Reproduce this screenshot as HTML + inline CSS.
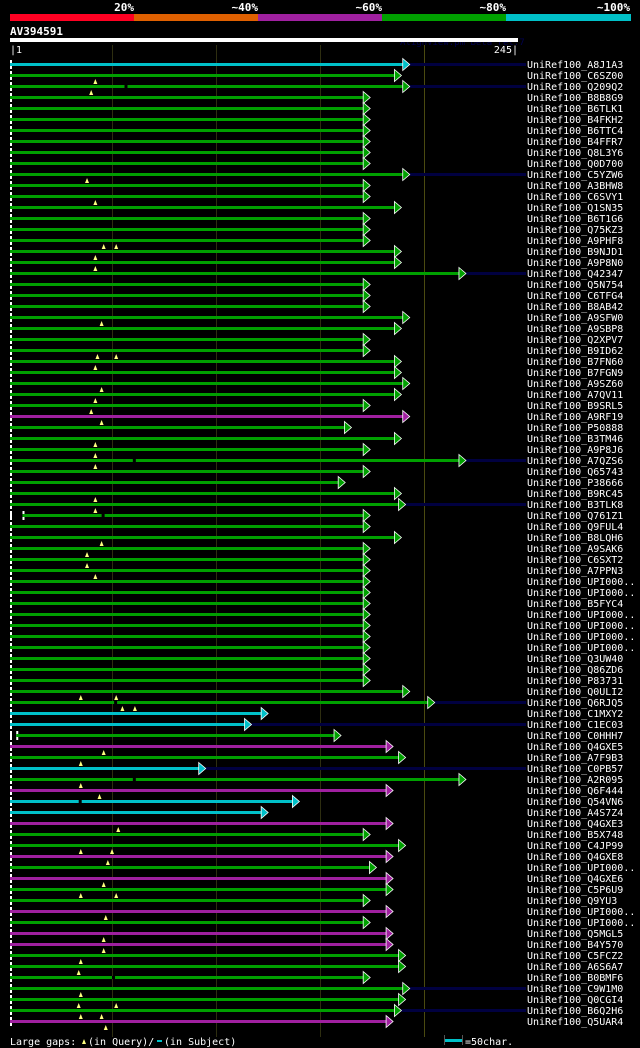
<!DOCTYPE html>
<html><head><meta charset="utf-8">
<style>
html,body{margin:0;padding:0;background:#000;}
body{width:640px;height:1048px;overflow:hidden;}
svg{display:block;font-family:"DejaVu Sans Mono","Liberation Mono",monospace;}
</style></head>
<body>
<svg id="chart" width="640" height="1048" viewBox="0 0 640 1048" xmlns="http://www.w3.org/2000/svg">
  <g>
    <rect x="10" y="14" width="124" height="7" fill="#ff0022"/>
    <rect x="134" y="14" width="124" height="7" fill="#e06000"/>
    <rect x="258" y="14" width="124" height="7" fill="#a020a0"/>
    <rect x="382" y="14" width="124" height="7" fill="#00a000"/>
    <rect x="506" y="14" width="125" height="7" fill="#00c0c8"/>
    <g fill="#fff" font-size="11" font-weight="bold" text-anchor="end">
      <text x="134" y="11">20%</text>
      <text x="258" y="11">~40%</text>
      <text x="382" y="11">~60%</text>
      <text x="506" y="11">~80%</text>
      <text x="630" y="11">~100%</text>
    </g>
  </g>
  <text x="10" y="35" fill="#fff" font-size="11" font-weight="bold">AV394591</text>
  <text x="400" y="45" fill="#000050" font-size="9">AlignView.pm Beta rel.7</text>
  <rect x="10" y="38" width="508" height="4" fill="#fff"/>
  <text x="10" y="53" fill="#fff" font-size="10">|1</text>
  <text x="518" y="53" fill="#fff" font-size="10" text-anchor="end">245|</text>
  <g id="grid"></g>
  <g id="rows"></g>
  <g>
    <text x="10" y="1045" fill="#fff" font-size="10">Large gaps:</text>
    <path d="M82 1044 L84 1039 L86 1044 Z" fill="#ffff80"/>
    <text x="88" y="1045" fill="#fff" font-size="10">(in Query)/</text>
    <rect x="157" y="1040" width="5" height="2" fill="#00c0c8"/>
    <text x="164" y="1045" fill="#fff" font-size="10">(in Subject)</text>
    <rect x="444" y="1035" width="1" height="10" fill="#555"/>
    <rect x="445" y="1039" width="17" height="3" fill="#00c0c8"/>
    <rect x="462" y="1035" width="1" height="10" fill="#555"/>
    <text x="465" y="1045" fill="#fff" font-size="10">=50char.</text>
  </g>
</svg>
<script>
const names=["A8J1A3","C6SZ00","Q209Q2","B8B8G9","B6TLK1","B4FKH2","B6TTC4","B4FFR7","Q8L3Y6","Q0D700","C5YZW6","A3BHW8","C6SVY1","Q1SN35","B6T1G6","Q75KZ3","A9PHF8","B9NJD1","A9P8N0","Q42347","Q5N754","C6TFG4","B8AB42","A9SFW0","A9SBP8","Q2XPV7","B9ID62","B7FN60","B7FGN9","A9SZ60","A7QV11","B9SRL5","A9RF19","P50888","B3TM46","A9P8J6","A7QZS6","Q65743","P38666","B9RC45","B3TLK8","Q761Z1","Q9FUL4","B8LQH6","A9SAK6","C6SXT2","A7PPN3","UPI000..","UPI000..","B5FYC4","UPI000..","UPI000..","UPI000..","UPI000..","Q3UW40","Q86ZD6","P83731","Q0ULI2","Q6RJQ5","C1MXY2","C1EC03","C0HHH7","Q4GXE5","A7F9B3","C0PB57","A2R095","Q6F444","Q54VN6","A4S7Z4","Q4GXE3","B5X748","C4JP99","Q4GXE8","UPI000..","Q4GXE6","C5P6U9","Q9YU3","UPI000..","UPI000..","Q5MGL5","B4Y570","C5FCZ2","A6S6A7","B0BMF6","C9W1M0","Q0CGI4","B6Q2H6","Q5UAR4"];
const ends=[193,189,193,174,174,174,174,174,174,174,193,174,174,189,174,174,174,189,189,220,174,174,174,193,189,174,174,189,189,193,189,174,193,165,189,174,220,174,162,189,191,174,174,189,174,174,174,174,174,174,174,174,174,174,174,174,174,193,205,125,117,160,185,191,95,220,185,140,125,185,174,191,185,177,185,185,174,185,174,185,185,191,191,174,193,191,189,185];
const starts=[1,1,1,1,1,1,1,1,1,1,1,1,1,1,1,1,1,1,1,1,1,1,1,1,1,1,1,1,1,1,1,1,1,1,1,1,1,1,1,1,1,7,1,1,1,1,1,1,1,1,1,1,1,1,1,1,1,1,1,1,1,4,1,1,1,1,1,1,1,1,1,1,1,1,1,1,1,1,1,1,1,1,1,1,1,1,1,1];
const ident=[4,3,3,3,3,3,3,3,3,3,3,3,3,3,3,3,3,3,3,3,3,3,3,3,3,3,3,3,3,3,3,3,2,3,3,3,3,3,3,3,3,3,3,3,3,3,3,3,3,3,3,3,3,3,3,3,3,3,3,4,4,3,2,3,4,3,2,4,4,2,3,3,2,3,2,3,3,2,3,2,2,3,3,3,3,3,3,2];
const tails=[1,0,1,0,0,0,0,0,0,0,1,0,0,0,0,0,0,0,0,1,0,0,0,0,0,0,0,0,0,0,0,0,0,0,0,0,1,0,0,0,1,0,0,0,0,0,0,0,0,0,0,0,0,0,0,0,0,0,1,0,1,0,0,0,1,0,0,0,0,0,0,0,0,0,0,0,0,0,0,0,0,0,0,0,1,0,1,0];
const gaps=[[1,42],[2,40],[10,38],[12,42],[16,46],[16,52],[17,42],[18,42],[23,45],[26,43],[26,52],[27,42],[29,45],[30,42],[31,40],[32,45],[34,42],[35,42],[36,42],[39,42],[40,42],[43,45],[44,38],[45,38],[46,42],[57,35],[57,52],[58,55],[58,61],[62,46],[63,35],[65,35],[66,44],[69,53],[71,35],[71,50],[72,48],[74,46],[75,35],[75,52],[77,47],[79,46],[80,46],[81,35],[82,34],[84,35],[85,34],[85,52],[86,35],[86,45],[87,47]];
const subjGaps=[[2,56],[36,60],[58,51],[65,60],[67,34],[83,50],[41,45]];
const gridTicks=[50,100,150,200];

const colors=["#ff0022","#e06000","#a020a0","#00a000","#00c0c8"];
const X=r=>10+(r-1)*(508/244);
const Y=i=>64+i*11;
const NS="http://www.w3.org/2000/svg";
function mk(t,a){const e=document.createElementNS(NS,t);for(const k in a)e.setAttribute(k,a[k]);return e;}
const grid=document.getElementById('grid');
gridTicks.forEach((t,i)=>{
  const l=mk('rect',{x:Math.round(X(t)),y:45,width:1,height:992,fill:i==3?'#4a4a10':'#2e2e10'});
  
  
  grid.appendChild(l);
});
const rows=document.getElementById('rows');
names.forEach((n,i)=>{
  const g=mk('g',{});
  
  
  const y=Y(i), c=colors[ident[i]], xs=X(starts[i]), xe=X(ends[i]);
  if(tails[i]){g.appendChild(mk('rect',{x:xe,y:y-1,width:518-xe+8,height:3,fill:'#000040'}));}
  g.appendChild(mk('rect',{x:10,y:y-4,width:2,height:9,fill:'#fff'}));
  if(starts[i]>1){g.appendChild(mk('rect',{x:xs,y:y-4,width:2,height:9,fill:'#fff'}));}
  const bar=mk('rect',{x:xs,y:y-1,width:xe-xs-6,height:3,fill:c});
  
  
  g.appendChild(bar);
  g.appendChild(mk('path',{d:`M${xe-7} ${y-5.5} L${xe} ${y+0.5} L${xe-7} ${y+6.5} Z`,fill:c,stroke:'#fff','stroke-width':0.8}));
  const t=mk('text',{x:527,y:y+4,fill:'#fff','font-size':10});
  
  
  t.textContent='UniRef100_'+n;
  g.appendChild(t);
  rows.appendChild(g);
});
gaps.forEach(([r,q])=>{
  const x=X(q), y=Y(r)+4;
  const m=mk('path',{d:`M${x-2} ${y+5} L${x} ${y} L${x+2} ${y+5} Z`,fill:'#ffff80'});
  
  
  rows.appendChild(m);
});
subjGaps.forEach(([r,q])=>{
  const x=X(q), y=Y(r);
  const m=mk('rect',{x:x,y:y-1,width:3,height:3,fill:'#000'});
  
  
  rows.appendChild(m);
});
</script>
</body></html>
